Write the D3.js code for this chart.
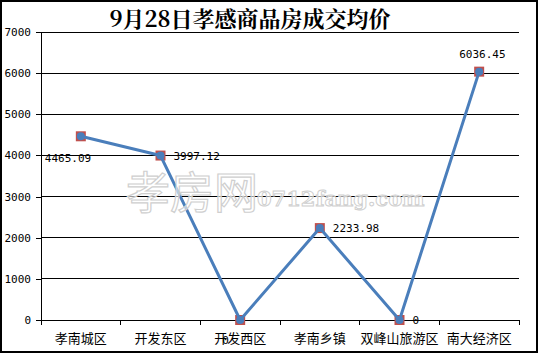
<!DOCTYPE html>
<html>
<head>
<meta charset="utf-8">
<script src="https://cdn.jsdelivr.net/npm/d3@7"></script>
<style>
  body { margin: 0; background: #fff; }
  svg { display: block; }
</style>
</head>
<body>
<svg id="chart"></svg>
<script>
// data
const categories = ["孝南城区", "开发东区", "开发西区", "孝南乡镇", "双峰山旅游区", "南大经济区"];
const prices = [4465.09, 3997.12, 0, 2233.98, 0, 6036.45];
const labelText = ["4465.09", "3997.12", "0", "2233.98", "0", "6036.45"];
const yTicks = [0, 1000, 2000, 3000, 4000, 5000, 6000, 7000];

const width = 538, height = 353;
const margin = { top: 32, right: 19, bottom: 33, left: 41 };
const innerWidth = width - margin.left - margin.right;
const innerHeight = height - margin.top - margin.bottom;

const svg = d3.select("#chart").attr("width", width).attr("height", height);

// outer frame
svg.append("rect")
  .attr("x", 1).attr("y", 1)
  .attr("width", width - 2).attr("height", height - 2)
  .attr("fill", "#fff").attr("stroke", "#000").attr("stroke-width", 2);

// title
svg.append("text")
  .attr("x", 250).attr("y", 27)
  .attr("text-anchor", "middle")
  .style("font-family", "'Noto Serif CJK SC', 'Noto Sans CJK SC', serif")
  .style("font-size", "22px")
  .style("font-weight", "bold")
  .text("9月28日孝感商品房成交均价");

const g = svg.append("g").attr("transform", `translate(${margin.left},${margin.top})`);

const x = d3.scaleBand().domain(categories).range([0, innerWidth]);
const y = d3.scaleLinear().domain([0, 7000]).range([innerHeight, 0]);

// horizontal grid lines
g.append("g")
  .selectAll("line")
  .data(yTicks.filter(d => d > 0))
  .join("line")
  .attr("x1", 0).attr("x2", innerWidth)
  .attr("y1", d => y(d)).attr("y2", d => y(d))
  .attr("stroke", "#000").attr("stroke-width", 1)
  .attr("shape-rendering", "crispEdges");

// y axis
const yAxis = g.append("g")
  .call(d3.axisLeft(y).tickValues(yTicks).tickSize(5).tickPadding(5).tickFormat(d3.format("d")));
yAxis.selectAll("text")
  .style("font-family", "'DejaVu Sans Mono', monospace")
  .style("font-size", "11px")
  .attr("fill", "#000");
yAxis.selectAll("path, line").attr("stroke", "#000").attr("shape-rendering", "crispEdges");

// x axis with ticks between categories
const xAxis = g.append("g").attr("transform", `translate(0,${innerHeight})`);
xAxis.append("line")
  .attr("x1", 0).attr("x2", innerWidth)
  .attr("stroke", "#000").attr("shape-rendering", "crispEdges");
xAxis.selectAll("line.tk")
  .data(d3.range(categories.length + 1))
  .join("line")
  .attr("class", "tk")
  .attr("x1", i => i * x.bandwidth()).attr("x2", i => i * x.bandwidth())
  .attr("y1", 0).attr("y2", 5)
  .attr("stroke", "#000").attr("shape-rendering", "crispEdges");
xAxis.selectAll("text")
  .data(categories)
  .join("text")
  .attr("x", d => x(d) + x.bandwidth() / 2)
  .attr("y", 23)
  .attr("text-anchor", "middle")
  .style("font-family", "'Noto Sans CJK SC', sans-serif")
  .style("font-size", "13px")
  .attr("fill", "#000")
  .text(d => d);

const cx = d => x(d) + x.bandwidth() / 2;

// markers (red squares)
g.selectAll("rect.mk")
  .data(categories)
  .join("rect")
  .attr("class", "mk")
  .attr("x", (d, i) => cx(d) - 5)
  .attr("y", (d, i) => y(prices[i]) - 5)
  .attr("width", 10).attr("height", 10)
  .attr("fill", "#c0504d");

// line
const line = d3.line()
  .x((d, i) => cx(categories[i]))
  .y(d => y(d));
g.append("path")
  .datum(prices)
  .attr("d", line)
  .attr("fill", "none")
  .attr("stroke", "#4a7ebb")
  .attr("stroke-width", 3)
  .attr("stroke-linejoin", "round");

// blue points on top
g.selectAll("circle.pt")
  .data(prices)
  .join("circle")
  .attr("class", "pt")
  .attr("cx", (d, i) => cx(categories[i]))
  .attr("cy", d => y(d))
  .attr("r", 4)
  .attr("fill", "#4a7ebb");

// value labels: offsets relative to each point
const labelOffsets = [[-36, 26], [13, 4], [-18, 24], [13, 4], [13, 4], [-20, -14]];
g.selectAll("text.val")
  .data(prices)
  .join("text")
  .attr("class", "val")
  .attr("x", (d, i) => cx(categories[i]) + labelOffsets[i][0])
  .attr("y", (d, i) => y(d) + labelOffsets[i][1])
  .style("font-family", "'DejaVu Sans Mono', monospace")
  .style("font-size", "11px")
  .attr("fill", "#000")
  .text((d, i) => labelText[i]);

// watermark, drawn over the chart
svg.append("text")
  .attr("x", 126).attr("y", 209)
  .style("font-family", "'Noto Sans CJK SC', sans-serif")
  .style("font-size", "44px")
  .attr("fill", "#fff").attr("fill-opacity", 0.6)
  .attr("stroke", "#cfcfcf").attr("stroke-width", 1.2)
  .text("孝房网");
svg.append("text")
  .attr("x", 257).attr("y", 206)
  .style("font-family", "'DejaVu Serif', serif")
  .style("font-size", "21px")
  .style("font-weight", "bold")
  .attr("fill", "#fff").attr("fill-opacity", 0.6)
  .attr("stroke", "#cfcfcf").attr("stroke-width", 1)
  .text("0712fang.com");
</script>
</body>
</html>
